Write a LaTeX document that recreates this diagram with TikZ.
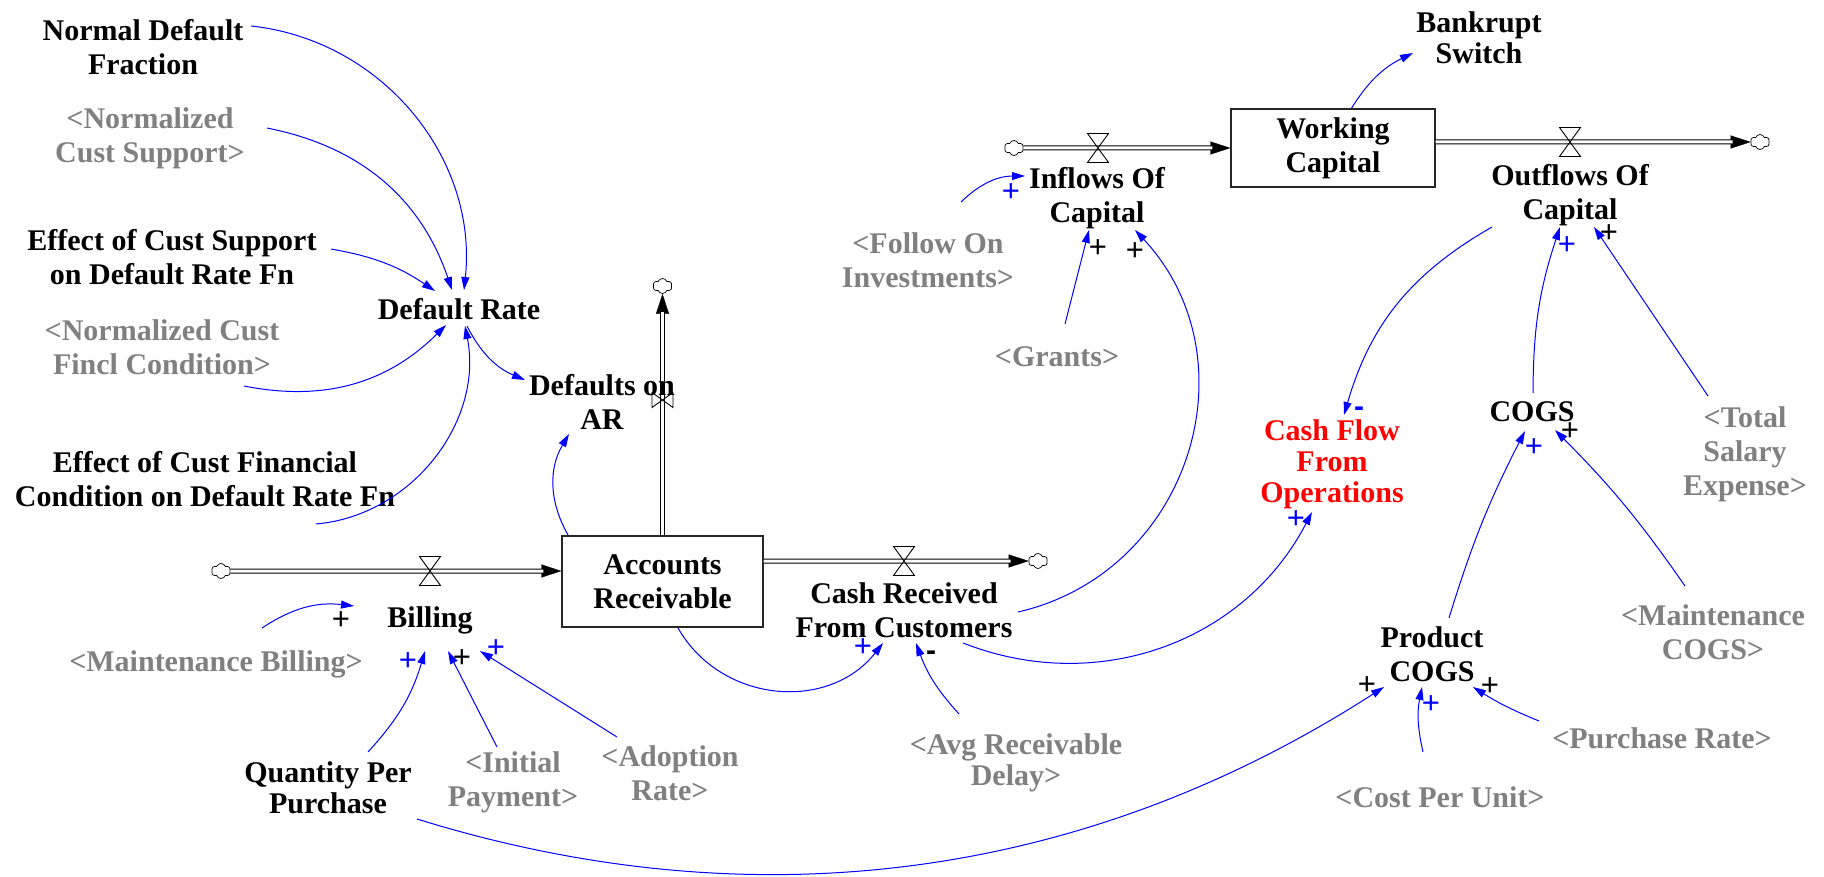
\documentclass[tikz,border=0pt]{standalone}
\usepackage{fontspec}
\setmainfont{Liberation Serif}
\setsansfont{Liberation Sans}
\usetikzlibrary{arrows.meta,calc,shapes.symbols}
\definecolor{shadowgray}{RGB}{128,128,128}
\definecolor{linkblue}{RGB}{0,0,255}
\definecolor{hotred}{RGB}{255,0,0}
\begin{document}
\begin{tikzpicture}[x=1pt,y=1pt,
  lbl/.style={font=\fontsize{30}{34}\selectfont\bfseries, align=center, inner sep=0pt},
  tightlbl/.style={lbl, font=\fontsize{30}{31}\selectfont\bfseries},
  shadowvar/.style={lbl, text=shadowgray},
  stock/.style={lbl, draw=black!85, line width=1.2pt},
  conn/.style={draw=linkblue, line width=1pt, -{Triangle[length=13pt,width=8pt]}},
  pol/.style={font=\fontsize{31}{31}\selectfont\sffamily, inner sep=0pt},
  negpol/.style={font=\fontsize{30}{30}\selectfont\sffamily\bfseries, inner sep=0pt},
  cloudsym/.style={cloud, cloud puffs=6, cloud puff arc=140, draw, line width=0.7pt,
    minimum width=19pt, minimum height=15pt, inner sep=0pt, fill=white},
  pipehead/.style={line width=0.3pt, -{Triangle[length=20pt,width=13pt]}},
  pipeline/.style={draw, line width=1pt, double distance=3pt, shorten >=18pt},
  valveh/.pic={\draw[line width=0.9pt] (-10.5,14.5) -- (10.5,14.5) -- (-10.5,-14.5) -- (10.5,-14.5) -- cycle;},
  valvev/.pic={\draw[line width=0.9pt] (-10.5,7.5) -- (-10.5,-7.5) -- (10.5,7.5) -- (10.5,-7.5) -- cycle;}
]
\useasboundingbox (0,0) rectangle (1824,-877);

% ---------- stocks ----------
\node[stock, minimum width=201pt, minimum height=91pt] (ar) at (662.5,-581.5) {Accounts\\Receivable};
\node[stock, minimum width=204pt, minimum height=78pt] (wc) at (1333,-148) {Working\\Capital};

% ---------- sources and sinks ----------
\node[cloudsym] (c1) at (221,-571) {};
\node[cloudsym] (c2) at (662.5,-286) {};
\node[cloudsym] (c3) at (1038,-561) {};
\node[cloudsym] (c4) at (1014,-148) {};
\node[cloudsym] (c5) at (1760,-142) {};

% ---------- pipes ----------
\draw[pipehead] (c1) -- (c1 -| ar.west);
\draw[pipeline] (c1) -- (c1 -| ar.west);
\draw[pipehead] (ar.north) -- (c2);
\draw[pipeline] (ar.north) -- (c2);
\draw[pipehead] (c3 -| ar.east) -- (c3);
\draw[pipeline] (c3 -| ar.east) -- (c3);
\draw[pipehead] (c4) -- (c4 -| wc.west);
\draw[pipeline] (c4) -- (c4 -| wc.west);
\draw[pipehead] (c5 -| wc.east) -- (c5);
\draw[pipeline] (c5 -| wc.east) -- (c5);

% ---------- valves ----------
\pic at (430,-571) {valveh};
\pic at (662.5,-400) {valvev};
\pic at (904,-561) {valveh};
\pic at (1098,-148) {valveh};
\pic at (1570,-142) {valveh};

% ---------- variables ----------
\node[lbl] (ndf) at (143,-47) {Normal Default\\Fraction};
\node[shadowvar] (ncs) at (150,-138) {<Normalized\\Cust Support>};
\node[lbl] (ecs) at (172,-257) {Effect of Cust Support\\on Default Rate Fn};
\node[lbl] (dr) at (459,-309) {Default Rate};
\node[shadowvar] (ncfc) at (162,-347) {<Normalized Cust\\Fincl Condition>};
\node[lbl] (ecfc) at (205,-479) {Effect of Cust Financial\\Condition on Default Rate Fn};
\node[lbl] (dar) at (602,-402) {Defaults on\\AR};
\node[lbl] (bill) at (430,-620) {Billing};
\node[shadowvar] (mb) at (216,-664) {<Maintenance Billing>};
\node[tightlbl] (qpp) at (328,-788) {Quantity Per\\Purchase};
\node[shadowvar] (ip) at (513,-782) {<Initial\\Payment>};
\node[shadowvar] (adr) at (670,-773) {<Adoption\\Rate>};
\node[lbl] (crfc) at (904,-610) {Cash Received\\From Customers};
\node[tightlbl, text=shadowgray] (ard) at (1016,-763) {<Avg Receivable\\Delay>};
\node[shadowvar] (grants) at (1057,-357) {<Grants>};
\node[shadowvar] (foi) at (928,-260) {<Follow On\\Investments>};
\node[lbl] (ioc) at (1097,-198) {Inflows Of\\Capital};
\node[tightlbl] (bs) at (1479,-38) {Bankrupt\\Switch};
\node[lbl] (ooc) at (1570,-195) {Outflows Of\\Capital};
\node[tightlbl, text=hotred] (cffo) at (1332,-464) {Cash Flow\\From\\Operations};
\node[lbl] (cogs) at (1532,-412) {COGS};
\node[shadowvar] (tse) at (1745,-454) {<Total\\Salary\\Expense>};
\node[shadowvar] (mc) at (1713,-632) {<Maintenance\\COGS>};
\node[lbl] (pcogs) at (1432,-654) {Product\\COGS};
\node[shadowvar] (cpu) at (1440,-797) {<Cost Per Unit>};
\node[shadowvar] (pr) at (1662,-738) {<Purchase Rate>};

% ---------- causal links ----------
\draw[conn] ($(ndf)+(108,21)$) to[bend left=45] ($(dr)+(5,19)$);
\draw[conn] ($(ncs)+(117,10)$) to[bend left=30] ($(dr)+(-7,19)$);
\draw[conn] ($(ecs)+(159,8)$) to[bend left=12] ($(dr)+(-24,18)$);
\draw[conn] ($(ncfc)+(82,-39)$) to[bend right=28] ($(dr)+(-13,-16)$);
\draw[conn] ($(ecfc)+(111,-45)$) to[bend right=48] ($(dr)+(6,-17)$);
\draw[conn] ($(dr)+(8,-17)$) to[bend right=20] ($(dar)+(-77,22)$);
\draw[conn] ($(ar)+(-94.5,46.5)$) to[bend left=30] ($(dar)+(-33,-32)$);
\draw[conn] ($(mb)+(46,36)$) to[bend left=20] ($(bill)+(-76,14)$);
\draw[conn] ($(qpp)+(40,36)$) to[bend right=13] ($(bill)+(-5,-31)$);
\draw[conn] ($(ip)+(-16,35)$) -- ($(bill)+(18,-31)$);
\draw[conn] ($(adr)+(-53,36)$) -- ($(bill)+(50,-31)$);
\draw[conn] ($(ar)+(15.5,-46.5)$) to[bend right=56, looseness=1.09] ($(crfc)+(-21,-33)$);
\draw[conn] ($(ard)+(-57,49)$) to[bend left=11] ($(crfc)+(12,-33)$);
\draw[conn] ($(crfc)+(114,-2)$) to[bend right=60, looseness=1.13] ($(ioc)+(38,-32)$);
\draw[conn] ($(crfc)+(59,-33)$) to[bend right=42] ($(cffo)+(-20,-48)$);
\draw[conn] ($(grants)+(8,33)$) -- ($(ioc)+(-8,-32)$);
\draw[conn] ($(foi)+(33,58)$) to[bend left=22] ($(ioc)+(-72,22)$);
\draw[conn] ($(wc)+(18,39)$) to[bend left=16] ($(bs)+(-66,-15)$);
\draw[conn] ($(ooc)+(-78,-32)$) to[bend right=22] ($(cffo)+(12,49)$);
\draw[conn] ($(cogs)+(1,19)$) to[bend left=9] ($(ooc)+(-10,-32)$);
\draw[conn] ($(tse)+(-37,58)$) -- ($(ooc)+(24,-32)$);
\draw[conn] ($(pcogs)+(17,36)$) to[bend left=5] ($(cogs)+(-7,-19)$);
\draw[conn] ($(mc)+(-28,46)$) to[bend right=5] ($(cogs)+(23,-18)$);
\draw[conn] ($(qpp)+(89,-31)$) to[bend right=25, looseness=0.93] ($(pcogs)+(-48,-33)$);
\draw[conn] ($(cpu)+(-17,45)$) to[bend left=12] ($(pcogs)+(-10,-33)$);
\draw[conn] ($(pr)+(-123,17)$) to[bend left=5] ($(pcogs)+(41,-33)$);

% ---------- link polarities ----------
\node[pol] (s1) at (341,-621) {+};
\node[pol, text=linkblue] (s2) at (408,-662) {+};
\node[pol] (s3) at (462,-659) {+};
\node[pol, text=linkblue] (s4) at (496,-649) {+};
\node[pol, text=linkblue] (s5) at (863,-648) {+};
\node[negpol] (s6) at (931,-656) {-};
\node[pol, text=linkblue] (s7) at (1011,-193) {+};
\node[pol] (s8) at (1098,-249) {+};
\node[pol] (s9) at (1135,-252) {+};
\node[pol, text=linkblue] (s10) at (1567,-246) {+};
\node[pol] (s11) at (1609,-234) {+};
\node[negpol, text=linkblue] (s12) at (1359,-412) {-};
\node[pol, text=linkblue] (s13) at (1534,-448) {+};
\node[pol] (s14) at (1570,-432) {+};
\node[pol, text=linkblue] (s15) at (1296,-520) {+};
\node[pol] (s16) at (1367,-686) {+};
\node[pol, text=linkblue] (s17) at (1431,-705) {+};
\node[pol] (s18) at (1490,-687) {+};
\end{tikzpicture}
\end{document}
